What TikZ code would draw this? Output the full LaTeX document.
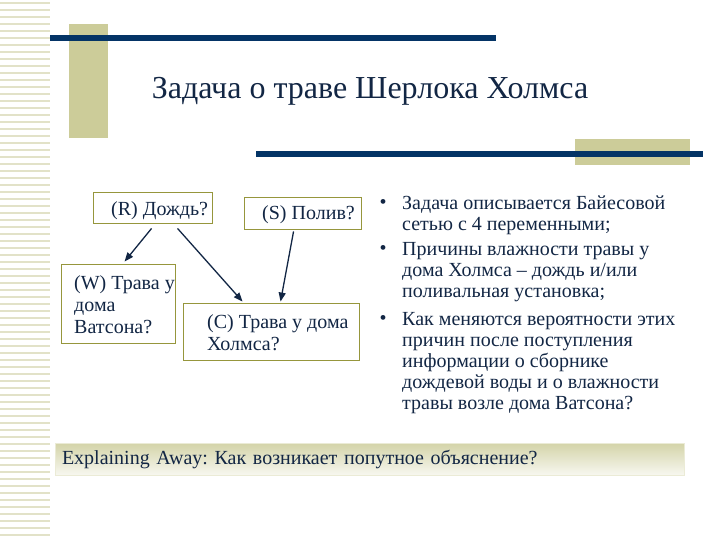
\documentclass[tikz,border=0pt]{standalone}
\usepackage{fontspec}
\setmainfont{Liberation Serif}
\frenchspacing
\usetikzlibrary{arrows.meta,calc}
\definecolor{navyline}{RGB}{4,52,102}
\definecolor{olivebar}{RGB}{204,204,153}
\definecolor{oliveedge}{RGB}{150,150,60}
\definecolor{inktext}{RGB}{18,38,68}
\definecolor{stripecol}{RGB}{226,226,200}
\tikzset{
  netbox/.style={draw=oliveedge,line width=0.9pt,fill=white,inner sep=0pt},
  boxtext/.style={anchor=west,inner sep=0pt,text=inktext,align=left,font=\fontsize{20}{22}\selectfont},
  bodytext/.style={anchor=north west,inner sep=0pt,text=inktext,align=left,font=\fontsize{20}{21}\selectfont},
  dotmark/.style={inner sep=0pt,text=inktext,font=\fontsize{20}{20}\selectfont},
  netarrow/.style={draw=inktext,line width=1.3pt,-{Triangle[length=9pt,width=7pt]}}
}
\begin{document}
\begin{tikzpicture}[x=1pt,y=1pt,yscale=-1,xscale=1]
\useasboundingbox (0,0) rectangle (720,540);
%Left stripes
\foreach \y in {3,10,...,540}
  \draw [stripecol,line width=2.5pt] (0,\y) -- (50,\y) ;
%Shape: Rectangle
\fill [olivebar] (69,24) rectangle (108,138) ;
\fill [olivebar] (575,139) rectangle (690,165) ;
%Straight Lines
\draw [navyline,line width=6pt] (50,38) -- (496,38) ;
\draw [navyline,line width=6pt] (256,154) -- (703,154) ;
% Title
\node [text=inktext,font=\fontsize{32}{36}\selectfont] (title) at (370,91) {Задача о траве Шерлока Холмса};
%Network boxes
\node [netbox,minimum width=119,minimum height=31] (R) at (152.5,207.5) {};
\node [netbox,minimum width=117,minimum height=32] (S) at (302.5,213) {};
\node [netbox,minimum width=114,minimum height=79] (W) at (118,303.5) {};
\node [netbox,minimum width=176,minimum height=57] (C) at (271,331.5) {};
% Text Node
\node [boxtext] (Rtext) at (111,211) {(R) Дождь?};
\node [boxtext] (Stext) at (262,215) {(S) Полив?};
\node [boxtext,anchor=north west] (Wtext) at (74,275) {(W) Трава у\\дома\\Ватсона?};
\node [boxtext,anchor=north west] (Ctext) at (207,314) {(C) Трава у дома\\Холмса?};
%Arrows
\draw [netarrow] ($(R.south west)+(59,5)$) -- ($(W.north west)+(64,-2)$) ;
\draw [netarrow] ($(R.south west)+(85,5)$) -- ($(C.north west)+(60,-1)$) ;
\draw [netarrow] ($(S.south west)+(50,2)$) -- ($(C.north west)+(98,-1)$) ;
%Bullets
\node [dotmark] (b1) at (383,204) {•};
\node [bodytext] (item1) at (402,196) {Задача описывается Байесовой\\сетью с 4 переменными;};
\node [dotmark] (b2) at (383,250) {•};
\node [bodytext] (item2) at (402,242) {Причины влажности травы у\\дома Холмса – дождь и/или\\поливальная установка;};
\node [dotmark] (b3) at (383,320) {•};
\node [bodytext] (item3) at (402,312) {Как меняются вероятности этих\\причин после поступления\\информации о сборнике\\дождевой воды и о влажности\\травы возле дома Ватсона?};
%Bottom bar
\node [draw=olivebar!40,top color=olivebar!85,bottom color=olivebar!15,minimum height=32,text width=615,inner xsep=7,align=left,text=inktext,font=\fontsize{20}{22}\selectfont] (bar) at (369.5,459) {Explaining Away: Как возникает попутное объяснение?};
\end{tikzpicture}
\end{document}
